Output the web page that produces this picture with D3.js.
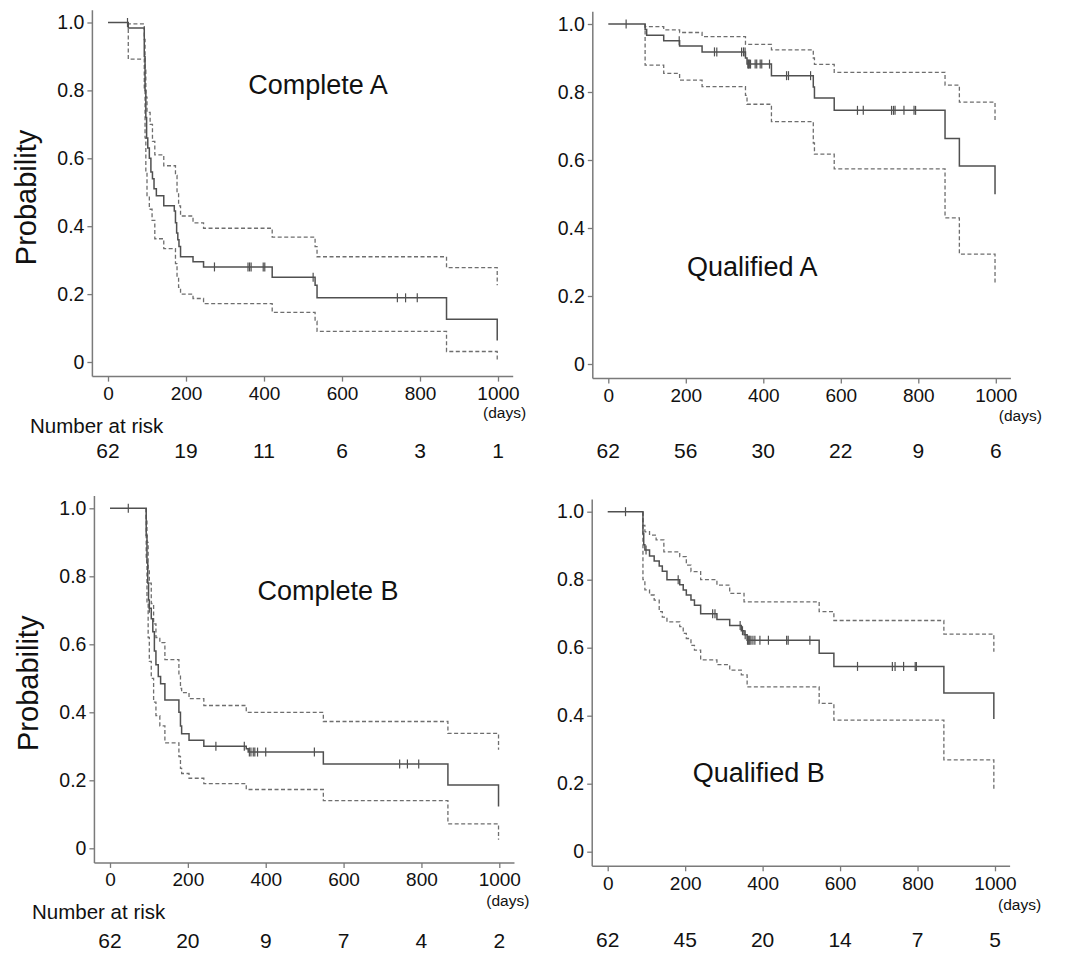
<!DOCTYPE html>
<html>
<head>
<meta charset="utf-8">
<script src="https://cdn.jsdelivr.net/npm/d3@7"></script>
<style>
  body { margin: 0; background: #fff; }
  svg text { font-family: "Liberation Sans", Arial, sans-serif; fill: #111; }
</style>
</head>
<body>
<script>
// Data

// axis ticks
var dayTicks = [0, 200, 400, 600, 800, 1000];
var probTicks = [0, 0.2, 0.4, 0.6, 0.8, 1.0];

// Complete A
var kmCA = [[0,1],[52,0.984],[93,0.90],[95,0.80],[97,0.72],[99,0.66],[102,0.63],[106,0.60],[110,0.56],[114,0.54],[118,0.51],[124,0.49],[143,0.46],[170,0.445],[173,0.41],[176,0.38],[179,0.36],[182,0.34],[186,0.31],[218,0.295],[245,0.28],[421,0.25],[531,0.226],[536,0.189],[868,0.126],[998,0.063]];
var upperCA = [[52,1],[52,0.996],[93,0.95],[95,0.86],[97,0.78],[100,0.735],[108,0.70],[114,0.65],[120,0.61],[143,0.578],[173,0.55],[177,0.50],[181,0.46],[186,0.43],[218,0.41],[245,0.394],[421,0.368],[531,0.34],[536,0.31],[868,0.278],[998,0.226]];
var lowerCA = [[52,1],[52,0.892],[93,0.80],[95,0.66],[97,0.56],[100,0.49],[106,0.45],[113,0.417],[120,0.363],[143,0.334],[173,0.29],[177,0.25],[181,0.22],[186,0.20],[218,0.187],[245,0.172],[421,0.146],[531,0.12],[536,0.09],[868,0.031],[998,0.005]];
var censorCA = [50, 273, 359, 363, 367, 398, 402, 526, 742, 763, 793];
var atRiskCA = [62, 19, 11, 6, 3, 1];

// Qualified A
var kmQA = [[0,1],[95,0.984],[99,0.967],[143,0.951],[184,0.935],[242,0.918],[354,0.90],[358,0.882],[421,0.848],[529,0.815],[532,0.782],[583,0.746],[869,0.663],[906,0.582],[998,0.499]];
var upperQA = [[95,1],[95,0.992],[143,0.983],[184,0.975],[242,0.963],[354,0.94],[421,0.924],[529,0.90],[532,0.881],[583,0.858],[869,0.82],[906,0.77],[998,0.71]];
var lowerQA = [[95,1],[95,0.879],[143,0.855],[184,0.835],[242,0.816],[354,0.79],[358,0.764],[421,0.713],[529,0.65],[532,0.617],[583,0.574],[869,0.43],[906,0.323],[998,0.235]];
var censorQA = [46, 183, 274, 280, 344, 349, 353, 360, 362, 364, 367, 379, 383, 392, 396, 416, 460, 465, 522, 643, 658, 731, 736, 740, 763, 789, 793];
var atRiskQA = [62, 56, 30, 22, 9, 6];

// Complete B
var kmCB = [[0,1],[93,0.92],[95,0.84],[97,0.78],[99,0.73],[101,0.706],[106,0.675],[110,0.637],[114,0.58],[118,0.54],[124,0.505],[130,0.484],[141,0.436],[177,0.40],[181,0.36],[184,0.337],[203,0.318],[241,0.30],[350,0.293],[355,0.283],[548,0.248],[868,0.186],[998,0.123]];
var upperCB = [[93,1],[93,0.97],[95,0.90],[98,0.82],[101,0.78],[106,0.72],[112,0.66],[118,0.62],[128,0.605],[141,0.555],[177,0.51],[181,0.47],[184,0.458],[203,0.44],[241,0.42],[350,0.40],[548,0.373],[868,0.338],[998,0.29]];
var lowerCB = [[93,1],[93,0.85],[95,0.72],[98,0.62],[101,0.55],[106,0.50],[112,0.43],[118,0.39],[128,0.36],[141,0.31],[177,0.27],[181,0.235],[184,0.22],[203,0.206],[241,0.19],[350,0.173],[548,0.14],[868,0.072],[998,0.025]];
var censorCB = [47, 101, 272, 345, 358, 362, 368, 372, 379, 400, 525, 744, 764, 793];
var atRiskCB = [62, 20, 9, 7, 4, 2];

// Qualified B
var kmQB = [[0,1],[91,0.935],[93,0.903],[96,0.887],[108,0.87],[120,0.855],[133,0.84],[141,0.825],[153,0.80],[186,0.785],[195,0.77],[203,0.755],[215,0.74],[224,0.725],[240,0.70],[282,0.683],[315,0.665],[345,0.65],[352,0.638],[360,0.622],[546,0.584],[584,0.545],[868,0.467],[997,0.39]];
var upperQB = [[91,1],[91,0.96],[96,0.941],[108,0.931],[125,0.917],[145,0.882],[186,0.868],[203,0.843],[215,0.824],[240,0.80],[282,0.784],[315,0.76],[352,0.735],[546,0.706],[584,0.68],[868,0.64],[997,0.588]];
var lowerQB = [[91,1],[91,0.80],[96,0.77],[108,0.755],[120,0.74],[133,0.706],[141,0.69],[153,0.676],[186,0.662],[195,0.642],[203,0.627],[215,0.607],[224,0.593],[240,0.564],[282,0.55],[315,0.534],[345,0.52],[360,0.485],[546,0.436],[584,0.387],[868,0.27],[997,0.185]];
var censorQB = [46, 99, 182, 271, 277, 342, 348, 355, 361, 363, 365, 367, 370, 375, 380, 393, 415, 462, 466, 522, 645, 735, 742, 764, 794, 797];
var atRiskQB = [62, 45, 20, 14, 7, 5];

// Layout of the 4 panels (pixel positions of day 0 / prob 1.0)
var panels = [
  { title: "Complete A", km: kmCA, upper: upperCA, lower: lowerCA, censor: censorCA, atRisk: atRiskCA,
    left: 108, top: 22.5, w: 390, h: 339.5, ylab: true, tx: 210, ty: 71, daysX: -15, daysY: 56, riskY: 96 },
  { title: "Qualified A", km: kmQA, upper: upperQA, lower: lowerQA, censor: censorQA, atRisk: atRiskQA,
    left: 608.3, top: 24, w: 387.5, h: 340, ylab: false, tx: 144, ty: 252, daysX: 3, daysY: 57, riskY: 94 },
  { title: "Complete B", km: kmCB, upper: upperCB, lower: lowerCB, censor: censorCB, atRisk: atRiskCB,
    left: 110, top: 508.3, w: 389.3, h: 340, ylab: true, tx: 218, ty: 92, daysX: -13, daysY: 58, riskY: 100 },
  { title: "Qualified B", km: kmQB, upper: upperQB, lower: lowerQB, censor: censorQB, atRisk: atRiskQB,
    left: 607.7, top: 511.7, w: 387.3, h: 340, ylab: false, tx: 151, ty: 270, daysX: 3, daysY: 58, riskY: 95 }
];

var width = 1083;
var height = 954;

var svg = d3.select("body").append("svg")
  .attr("width", width)
  .attr("height", height);

// survival value at time t (step function lookup)
function survivalAt(km, t) {
  var v = km[0][1];
  km.forEach(function(d) { if (d[0] <= t) v = d[1]; });
  return v;
}

var axisColor = "#7a7a7a";

panels.forEach(function(p) {
  var x = d3.scaleLinear().domain([0, 1000]).range([p.left, p.left + p.w]);
  var y = d3.scaleLinear().domain([0, 1]).range([p.top + p.h, p.top]);

  var g = svg.append("g");

  // axis frame (L shape)
  var axX = x(-40), axY = y(-0.043);
  g.append("line").attr("x1", axX).attr("x2", axX).attr("y1", y(1.036)).attr("y2", axY)
    .attr("stroke", axisColor).attr("stroke-width", 1.5);
  g.append("line").attr("x1", axX).attr("x2", x(1039)).attr("y1", axY).attr("y2", axY)
    .attr("stroke", axisColor).attr("stroke-width", 1.5);

  // y axis
  var yAxis = d3.axisLeft(y).tickValues(probTicks).tickSize(5).tickPadding(3)
    .tickFormat(function(d) { return d === 0 ? "0" : d3.format(".1f")(d); });
  var gy = g.append("g").attr("transform", "translate(" + axX + ",0)").call(yAxis);
  gy.select(".domain").remove();
  gy.selectAll("line").attr("stroke", axisColor).attr("stroke-width", 1.3);
  gy.selectAll("text").attr("font-size", 19.5).attr("fill", "#111")
    .attr("font-family", "Liberation Sans, Arial, sans-serif");

  // x axis
  var xAxis = d3.axisBottom(x).tickValues(dayTicks).tickSize(5).tickPadding(5)
    .tickFormat(d3.format("d"));
  var gx = g.append("g").attr("transform", "translate(0," + axY + ")").call(xAxis);
  gx.select(".domain").remove();
  gx.selectAll("line").attr("stroke", axisColor).attr("stroke-width", 1.3);
  gx.selectAll("text").attr("font-size", 19).attr("fill", "#111")
    .attr("font-family", "Liberation Sans, Arial, sans-serif");

  // (days)
  g.append("text")
    .attr("x", x(1000) + p.daysX)
    .attr("y", y(0) + p.daysY)
    .attr("font-size", 15.5)
    .text("(days)");

  // step lines
  var line = d3.line()
    .x(function(d) { return x(d[0]); })
    .y(function(d) { return y(d[1]); })
    .curve(d3.curveStepAfter);

  [p.upper, p.lower].forEach(function(ci) {
    g.append("path")
      .attr("d", line(ci))
      .attr("fill", "none")
      .attr("stroke", "#6e6e6e")
      .attr("stroke-width", 1.3)
      .attr("stroke-dasharray", "4,2.5");
  });

  g.append("path")
    .attr("d", line(p.km))
    .attr("fill", "none")
    .attr("stroke", "#505050")
    .attr("stroke-width", 1.5);

  // censor ticks
  g.selectAll(".censor").data(p.censor).enter().append("line")
    .attr("class", "censor")
    .attr("x1", function(d) { return x(d); })
    .attr("x2", function(d) { return x(d); })
    .attr("y1", function(d) { return y(survivalAt(p.km, d)) - 4.5; })
    .attr("y2", function(d) { return y(survivalAt(p.km, d)) + 4.5; })
    .attr("stroke", "#505050")
    .attr("stroke-width", 1.2);

  // title
  g.append("text")
    .attr("x", p.left + p.tx)
    .attr("y", p.top + p.ty)
    .attr("text-anchor", "middle")
    .attr("font-size", 27)
    .text(p.title);

  // y label
  if (p.ylab) {
    g.append("text")
      .attr("transform", "translate(" + (p.left - 72) + "," + (p.top + 175) + ")rotate(-90)")
      .attr("text-anchor", "middle")
      .attr("font-size", 29)
      .text("Probability");
    g.append("text")
      .attr("x", p.left - 78)
      .attr("y", y(0) + 71)
      .attr("font-size", 20.5)
      .text("Number at risk");
  }

  // number at risk row
  g.selectAll(".risk").data(p.atRisk).enter().append("text")
    .attr("class", "risk")
    .attr("x", function(d, i) { return x(dayTicks[i]); })
    .attr("y", y(0) + p.riskY)
    .attr("text-anchor", "middle")
    .attr("font-size", 21)
    .text(function(d) { return d; });
});
</script>
</body>
</html>
